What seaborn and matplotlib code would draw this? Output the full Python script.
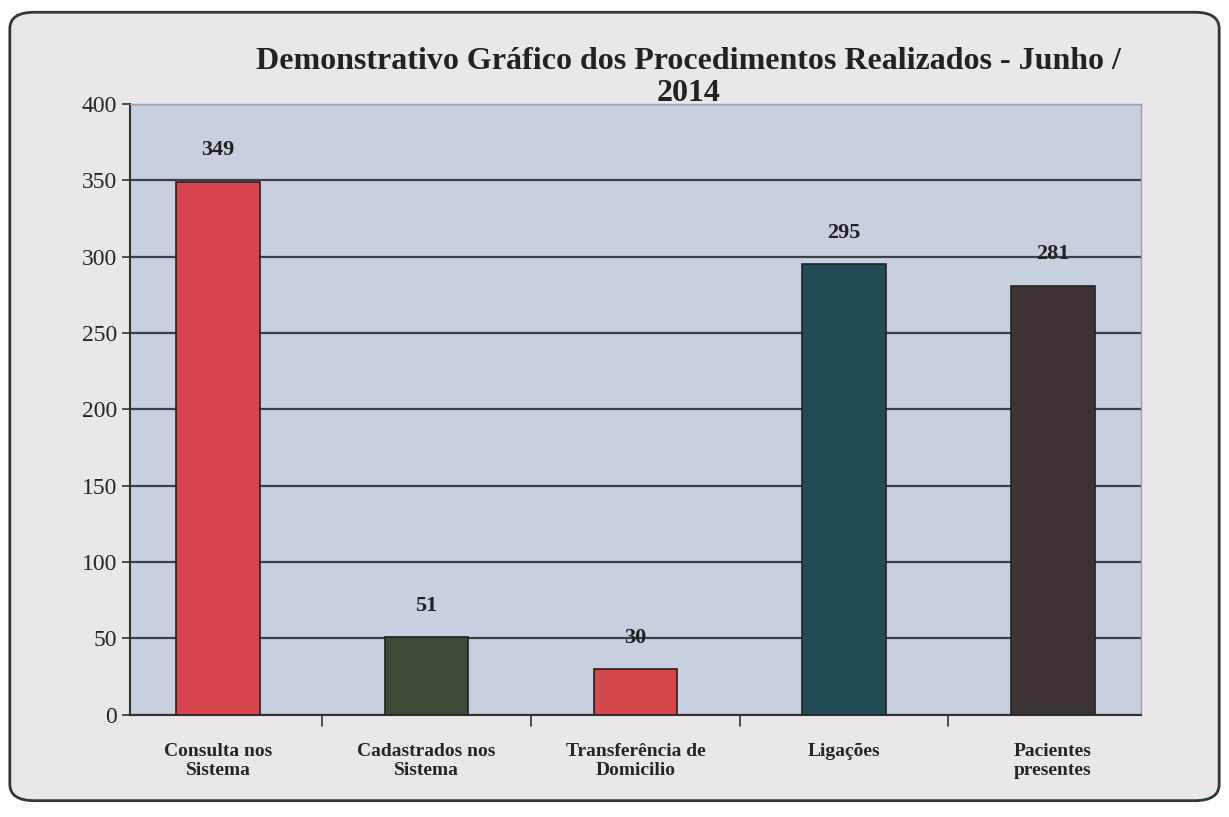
import matplotlib
matplotlib.use("Agg")
import matplotlib.pyplot as plt
import seaborn as sns
import pandas as pd
from matplotlib.patches import FancyBboxPatch

# --- Data ---
categories = ["Consulta nos\nSistema", "Cadastrados nos\nSistema",
              "Transferência de\nDomicilio", "Ligações", "Pacientes\npresentes"]
values = [349, 51, 30, 295, 281]
bar_colors = ["#d8454f", "#3e4a38", "#d4484a", "#224c55", "#3c3334"]
y_ticks = [0, 50, 100, 150, 200, 250, 300, 350, 400]
title = "Demonstrativo Gráfico dos Procedimentos Realizados - Junho /\n2014"

df = pd.DataFrame({"categoria": categories, "total": values})

sns.set_theme(style="white")
plt.rcParams['font.family'] = ['Liberation Serif', 'DejaVu Serif']

fig = plt.figure(figsize=(12.29, 8.17), dpi=100)
fig.patch.set_facecolor("white")

# rounded frame behind the chart
frame = FancyBboxPatch((0.008, 0.02), 0.984, 0.965, boxstyle="round,pad=0,rounding_size=0.02",
                       transform=fig.transFigure, facecolor="#ebe6e9", edgecolor="#2e3a33",
                       linewidth=2, zorder=-10)
fig.patches.append(frame)

ax = fig.add_axes([0.106, 0.125, 0.822, 0.748])
ax.set_zorder(2)
ax.set_facecolor("#c8d0e0")

sns.barplot(data=df, x="categoria", y="total", hue="categoria", palette=bar_colors,
            saturation=1, legend=False, width=0.4, edgecolor="#222222", linewidth=1.2,
            ax=ax, zorder=3)

ax.set_ylim(0, 400)
ax.set_yticks(y_ticks)
ax.yaxis.grid(True, color="#3a3f4a", linewidth=1.6, zorder=0)
ax.set_axisbelow(True)

for spine in ["top", "right"]:
    ax.spines[spine].set_color("#9aa0aa")
    ax.spines[spine].set_linewidth(1)
for spine in ["left", "bottom"]:
    ax.spines[spine].set_color("#333333")
    ax.spines[spine].set_linewidth(1.5)

# tick marks between categories like the original
ax.tick_params(axis="y", left=True, length=6, width=1.2, color="#333333", labelsize=17)
ax.tick_params(axis="x", bottom=False, labelsize=14, pad=14)
for lbl in ax.get_xticklabels():
    lbl.set_fontweight("bold")
for b in [0.5, 1.5, 2.5, 3.5]:
    ax.plot([b, b], [0, -7], color="#333333", linewidth=1.2, clip_on=False)

ax.set_xlabel("")
ax.set_ylabel("")

for i, v in enumerate(values):
    ax.text(i, v + 14, str(v), ha="center", va="bottom", fontsize=16, fontweight="bold",
            color="#222222")

fig.text(0.56, 0.868, title, ha="center", va="bottom", fontsize=23, fontweight="bold",
         color="#222222", linespacing=1.15, zorder=5)

fig.savefig("out.png", dpi=100, facecolor=fig.get_facecolor())
